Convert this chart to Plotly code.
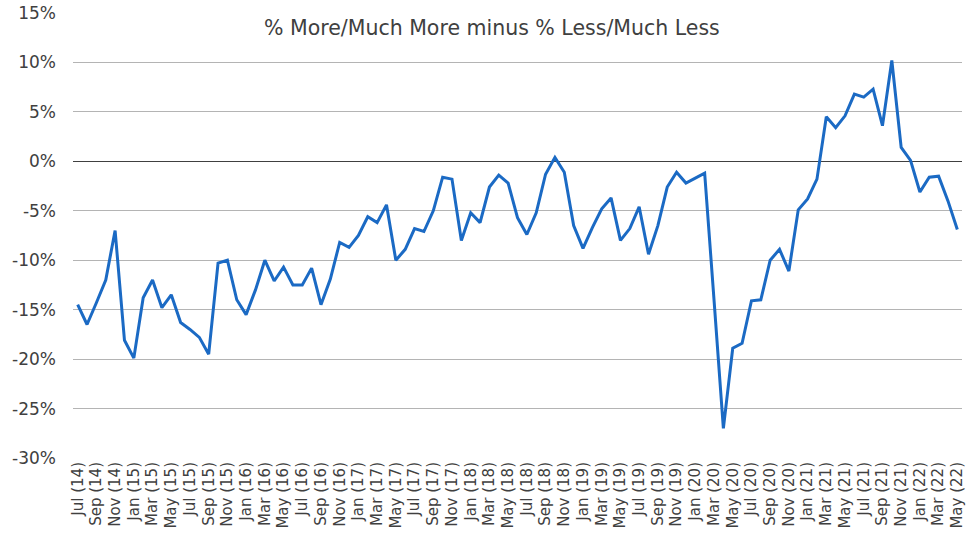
import plotly.graph_objects as go

# Monthly categories Jul 2014 .. May 2022
months = ['Jan', 'Feb', 'Mar', 'Apr', 'May', 'Jun',
          'Jul', 'Aug', 'Sep', 'Oct', 'Nov', 'Dec']
categories = []
for yr in range(14, 23):
    for m_idx, m in enumerate(months):
        if yr == 14 and m_idx < 6:
            continue
        if yr == 22 and m_idx > 4:
            continue
        categories.append(f'{m} ({yr})')

# % More/Much More minus % Less/Much Less (in %)
net_balance = [
    -14.5, -16.5, -14.3, -12.0, -7.0, -18.1,                      # Jul-Dec 14
    -19.9, -13.8, -12.0, -14.8, -13.5, -16.3,
    -17.0, -17.8, -19.5, -10.3, -10.0, -14.0,                     # 2015
    -15.5, -13.0, -10.0, -12.1, -10.7, -12.5,
    -12.5, -10.8, -14.5, -11.9, -8.2, -8.7,                       # 2016
    -7.5, -5.6, -6.2, -4.4, -10.0, -8.9,
    -6.8, -7.1, -5.0, -1.6, -1.8, -8.0,                           # 2017
    -5.2, -6.2, -2.6, -1.4, -2.2, -5.7,
    -7.4, -5.2, -1.3, 0.4, -1.1, -6.5,                            # 2018
    -8.8, -6.7, -4.8, -3.7, -8.0, -6.8,
    -4.6, -9.4, -6.5, -2.6, -1.1, -2.2,                           # 2019
    -1.7, -1.2, -14.0, -27.0, -18.9, -18.4,
    -14.1, -14.0, -10.0, -8.9, -11.1, -4.9,                       # 2020
    -3.8, -1.8, 4.5, 3.4, 4.6, 6.8,
    6.5, 7.3, 3.6, 10.2, 1.4, 0.1,                                # 2021
    -3.1, -1.6, -1.5, -4.0, -6.9,                                 # Jan-May 22
]

y_ticks = [15, 10, 5, 0, -5, -10, -15, -20, -25, -30]
y_tick_labels = [f'{v}%' for v in y_ticks]

fig = go.Figure()

fig.add_trace(go.Scatter(
    x=categories,
    y=net_balance,
    mode='lines',
    line=dict(color='#1b6ac4', width=3),
    showlegend=False,
))

fig.add_annotation(
    text='% More/Much More minus % Less/Much Less',
    xref='paper', yref='paper',
    x=0.471, y=0.966,
    xanchor='center', yanchor='middle',
    showarrow=False,
    font=dict(size=20.5, color='#404040'),
)

fig.update_layout(
    width=966,
    height=554,
    margin=dict(l=73, r=4, t=13, b=96),
    paper_bgcolor='white',
    plot_bgcolor='white',
    font=dict(family='DejaVu Sans', color='#404040'),
    xaxis=dict(
        type='category',
        range=[-0.5, len(categories) - 0.5],
        tickmode='linear',
        tick0=0,
        dtick=2,
        tickangle=-90,
        tickfont=dict(size=15, color='#404040'),
        showgrid=False,
        showline=False,
        ticks='',
        automargin=False,
    ),
    yaxis=dict(
        range=[-30, 15],
        tickvals=y_ticks,
        ticktext=y_tick_labels,
        tickfont=dict(size=17, color='#404040'),
        ticklabelstandoff=16,
        showgrid=True,
        gridcolor='#b4b4b4',
        gridwidth=1,
        zeroline=True,
        zerolinecolor='#404040',
        zerolinewidth=1,
        ticks='',
        automargin=False,
    ),
)

# drop the default 8px body margin so the figure sits at the page corner
fig.write_html('out.html',
               config={'displayModeBar': False},
               post_script="document.body.style.margin='0px';")
